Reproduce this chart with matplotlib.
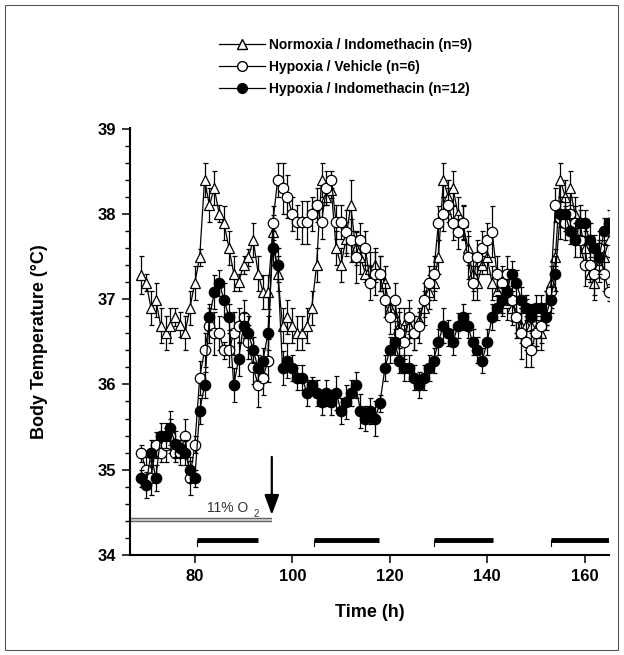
import matplotlib
matplotlib.use("Agg")
import matplotlib.pyplot as plt
import numpy as np
from matplotlib.lines import Line2D
from matplotlib.patches import Rectangle

plt.rcParams['font.family'] = ['Liberation Sans', 'DejaVu Sans']

# time axis (h), one reading per hour
hours = np.arange(69, 166)

# mean body temperature (degC)
normoxia_indo = [
    37.28, 37.19, 36.9, 36.99, 36.69, 36.6, 36.69, 36.79, 36.7, 36.6,
    36.9, 37.19, 37.49, 38.4, 38.1, 38.3, 38.0, 37.89, 37.6, 37.3,
    37.2, 37.4, 37.49, 37.69, 37.3, 37.08, 37.08, 37.79, 37.3, 36.69,
    36.79, 36.69, 36.6, 36.6, 36.69, 36.9, 37.4, 38.4, 38.2, 38.28,
    37.6, 37.4, 37.7, 38.1, 37.6, 37.49, 37.3, 37.35, 37.4, 37.3,
    37.19, 36.9, 36.8, 36.69, 36.7, 36.69, 36.6, 36.75, 36.9, 37.08,
    37.19, 37.49, 38.4, 38.2, 38.3, 38.0, 37.9, 37.6, 37.3, 37.19,
    37.4, 37.49, 37.19, 37.1, 37.0, 36.95, 36.9, 36.8, 36.69, 36.7,
    36.69, 36.65, 36.6, 36.9, 37.19, 37.49, 38.4, 38.2, 38.3, 38.0,
    37.9, 37.6, 37.3, 37.19, 37.4, 37.49, 37.69,
]
hypoxia_vehicle = [
    35.19, 35.0, 34.9, 35.29, 35.19, 35.29, 35.4, 35.19, 35.2, 35.4,
    34.9, 35.29, 36.08, 36.4, 36.69, 36.6, 36.6, 36.4, 36.4, 36.6,
    36.69, 36.79, 36.5, 36.2, 35.99, 36.08, 36.28, 37.89, 38.4, 38.3,
    38.2, 38.0, 37.9, 37.9, 37.9, 38.0, 38.1, 37.9, 38.3, 38.4,
    37.9, 37.9, 37.79, 37.69, 37.49, 37.69, 37.6, 37.19, 37.3, 37.3,
    36.99, 36.79, 36.99, 36.6, 36.5, 36.79, 36.6, 36.69, 36.99, 37.19,
    37.3, 37.89, 38.0, 38.1, 37.89, 37.79, 37.89, 37.49, 37.19, 37.49,
    37.6, 37.69, 37.79, 37.3, 37.19, 37.3, 36.99, 36.79, 36.6, 36.5,
    36.4, 36.6, 36.69, 36.9, 37.1, 38.1, 37.95, 37.89, 38.0, 37.89,
    37.69, 37.4, 37.4, 37.3, 37.6, 37.3, 37.08,
]
hypoxia_indo = [
    34.9, 34.82, 35.2, 34.9, 35.4, 35.4, 35.49, 35.3, 35.25, 35.2,
    35.0, 34.9, 35.69, 35.99, 36.79, 37.08, 37.19, 36.99, 36.79, 35.99,
    36.3, 36.69, 36.6, 36.4, 36.19, 36.28, 36.6, 37.6, 37.4, 36.19,
    36.28, 36.19, 36.08, 36.08, 35.9, 35.99, 35.9, 35.79, 35.9, 35.79,
    35.9, 35.69, 35.79, 35.9, 35.99, 35.69, 35.6, 35.69, 35.6, 35.78,
    36.19, 36.4, 36.5, 36.28, 36.19, 36.19, 36.08, 35.99, 36.08, 36.19,
    36.28, 36.5, 36.69, 36.6, 36.5, 36.69, 36.79, 36.69, 36.5, 36.4,
    36.28, 36.5, 36.79, 36.9, 36.99, 37.08, 37.3, 37.19, 36.99, 36.9,
    36.79, 36.9, 36.9, 36.79, 36.99, 37.3, 38.0, 38.0, 37.8, 37.69,
    37.89, 37.89, 37.69, 37.6, 37.49, 37.8, 37.89,
]

# SEM
normoxia_indo_sem = [
    0.22, 0.1, 0.2, 0.2, 0.2, 0.2, 0.2, 0.1, 0.15, 0.2,
    0.2, 0.2, 0.1, 0.2, 0.2, 0.2, 0.1, 0.2, 0.2, 0.2,
    0.1, 0.1, 0.1, 0.2, 0.2, 0.2, 0.2, 0.2, 0.2, 0.2,
    0.2, 0.2, 0.2, 0.2, 0.2, 0.2, 0.2, 0.2, 0.1, 0.1,
    0.2, 0.2, 0.2, 0.3, 0.2, 0.2, 0.1, 0.2, 0.2, 0.2,
    0.2, 0.1, 0.2, 0.2, 0.2, 0.2, 0.2, 0.1, 0.2, 0.2,
    0.2, 0.2, 0.2, 0.2, 0.2, 0.2, 0.2, 0.2, 0.2, 0.2,
    0.1, 0.2, 0.2, 0.2, 0.2, 0.2, 0.2, 0.2, 0.2, 0.3,
    0.2, 0.2, 0.2, 0.2, 0.2, 0.1, 0.2, 0.2, 0.2, 0.2,
    0.2, 0.2, 0.1, 0.2, 0.2, 0.2, 0.2,
]
hypoxia_vehicle_sem = [
    0.1, 0.15, 0.2, 0.15, 0.1, 0.2, 0.2, 0.1, 0.15, 0.2,
    0.2, 0.1, 0.2, 0.2, 0.2, 0.25, 0.2, 0.1, 0.2, 0.25,
    0.2, 0.2, 0.2, 0.2, 0.25, 0.2, 0.25, 0.2, 0.2, 0.3,
    0.25, 0.2, 0.2, 0.25, 0.25, 0.2, 0.2, 0.2, 0.2, 0.1,
    0.2, 0.2, 0.25, 0.25, 0.3, 0.2, 0.2, 0.2, 0.25, 0.2,
    0.2, 0.2, 0.2, 0.25, 0.2, 0.2, 0.2, 0.2, 0.2, 0.2,
    0.2, 0.2, 0.2, 0.2, 0.2, 0.2, 0.2, 0.25, 0.2, 0.2,
    0.2, 0.2, 0.3, 0.2, 0.2, 0.2, 0.25, 0.25, 0.3, 0.3,
    0.2, 0.2, 0.2, 0.2, 0.2, 0.2, 0.25, 0.2, 0.2, 0.2,
    0.2, 0.25, 0.2, 0.25, 0.2, 0.2, 0.1,
]
hypoxia_indo_sem = [
    0.1, 0.15, 0.15, 0.15, 0.15, 0.15, 0.2, 0.15, 0.1, 0.15,
    0.15, 0.1, 0.15, 0.15, 0.15, 0.2, 0.15, 0.2, 0.15, 0.2,
    0.2, 0.15, 0.2, 0.15, 0.15, 0.15, 0.2, 0.2, 0.2, 0.2,
    0.2, 0.15, 0.15, 0.15, 0.15, 0.1, 0.15, 0.15, 0.15, 0.15,
    0.2, 0.15, 0.2, 0.15, 0.15, 0.2, 0.15, 0.15, 0.2, 0.1,
    0.15, 0.15, 0.15, 0.15, 0.15, 0.15, 0.15, 0.15, 0.15, 0.15,
    0.15, 0.15, 0.2, 0.15, 0.15, 0.15, 0.15, 0.15, 0.15, 0.15,
    0.15, 0.15, 0.15, 0.15, 0.15, 0.15, 0.15, 0.15, 0.15, 0.15,
    0.15, 0.15, 0.15, 0.15, 0.15, 0.2, 0.15, 0.2, 0.15, 0.2,
    0.15, 0.15, 0.2, 0.15, 0.2, 0.15, 0.15,
]

legend_labels = ['Normoxia / Indomethacin (n=9)',
                 'Hypoxia / Vehicle (n=6)',
                 'Hypoxia / Indomethacin (n=12)']

# dark phases (h) and hypoxia exposure
dark_periods = [(80.5, 93.0), (104.5, 117.7), (129.0, 141.1), (153.0, 165.0)]
hypoxia_end = 95.8

fig = plt.figure(figsize=(6.24, 6.55), dpi=100)
ax = fig.add_axes([130 / 624, 100 / 655, 479 / 624, 426.5 / 655])

common = dict(color='k', lw=0.9, elinewidth=0.9, capsize=1.8, capthick=0.9)
ax.errorbar(hours, normoxia_indo, yerr=normoxia_indo_sem, fmt='-^',
            ms=7, mfc='white', mec='k', mew=0.9, zorder=3, **common)
ax.errorbar(hours, hypoxia_vehicle, yerr=hypoxia_vehicle_sem, fmt='-o',
            ms=7.5, mfc='white', mec='k', mew=0.9, zorder=4, **common)
ax.errorbar(hours, hypoxia_indo, yerr=hypoxia_indo_sem, fmt='-o',
            ms=7.5, mfc='k', mec='k', mew=0.9, zorder=5, **common)

# dark bars
for start, end in dark_periods:
    ax.plot([start, end], [34.17, 34.17], color='k', lw=3.5,
            solid_capstyle='butt', zorder=2)
    ax.plot([start, start], [34.17, 34.11], color='k', lw=0.8, zorder=2)

# 11% O2 line
ax.plot([66.7, hypoxia_end], [34.41, 34.41], color='#666666', lw=3.2,
        solid_capstyle='butt', zorder=2, clip_on=False)
ax.plot([66.7, hypoxia_end], [34.41, 34.41], color='#dddddd', lw=1.1,
        solid_capstyle='butt', zorder=2, clip_on=False)
ax.text(82.6, 34.5, '11% O', fontsize=10, color='#333333')
ax.text(92.0, 34.45, '2', fontsize=7, color='#333333')
ax.annotate('', xy=(hypoxia_end, 34.47), xytext=(hypoxia_end, 35.15),
            arrowprops=dict(arrowstyle='-|>,head_length=0.6,head_width=0.22',
                            color='k', lw=1.6, mutation_scale=20,
                            shrinkA=0, shrinkB=0))

ax.set_xlim(66.7, 165)
ax.set_ylim(34, 39)
ax.set_xticks([80, 100, 120, 140, 160])
ax.set_yticks([34, 35, 36, 37, 38, 39])
ax.set_yticks(np.arange(34, 39.01, 0.2), minor=True)
ax.spines['top'].set_visible(False)
ax.spines['right'].set_visible(False)
ax.spines['left'].set_linewidth(1.5)
ax.spines['bottom'].set_linewidth(1.5)
ax.tick_params(axis='both', which='major', direction='out', length=6,
               width=1.1, labelsize=12, pad=4)
ax.tick_params(axis='y', which='minor', direction='out', length=3.5, width=1.0)
for lab in ax.get_xticklabels() + ax.get_yticklabels():
    lab.set_fontweight('bold')

ax.set_ylabel('Body Temperature (°C)', fontsize=13, fontweight='bold')
ax.yaxis.set_label_coords(-0.172, 0.5)
ax.set_xlabel('Time (h)', fontsize=13, fontweight='bold')
ax.xaxis.set_label_coords(0.5, -0.115)

handles = [
    Line2D([], [], color='k', lw=0.9, marker='^', ms=6.5, mfc='white', mec='k'),
    Line2D([], [], color='k', lw=0.9, marker='o', ms=7, mfc='white', mec='k'),
    Line2D([], [], color='k', lw=0.9, marker='o', ms=7, mfc='k', mec='k'),
]
fig.legend(handles, legend_labels, loc='upper left',
           bbox_to_anchor=(219 / 624, 1 - 38 / 655), frameon=False,
           prop={'weight': 'bold', 'size': 10}, handlelength=3.3,
           handletextpad=0.3, labelspacing=0.58, borderpad=0,
           borderaxespad=0)

fig.patches.append(Rectangle((5 / 624, 5 / 655), 613 / 624, 645 / 655,
                             transform=fig.transFigure, fill=False,
                             ec='#555555', lw=0.8))

fig.savefig('out.png', dpi=100)
